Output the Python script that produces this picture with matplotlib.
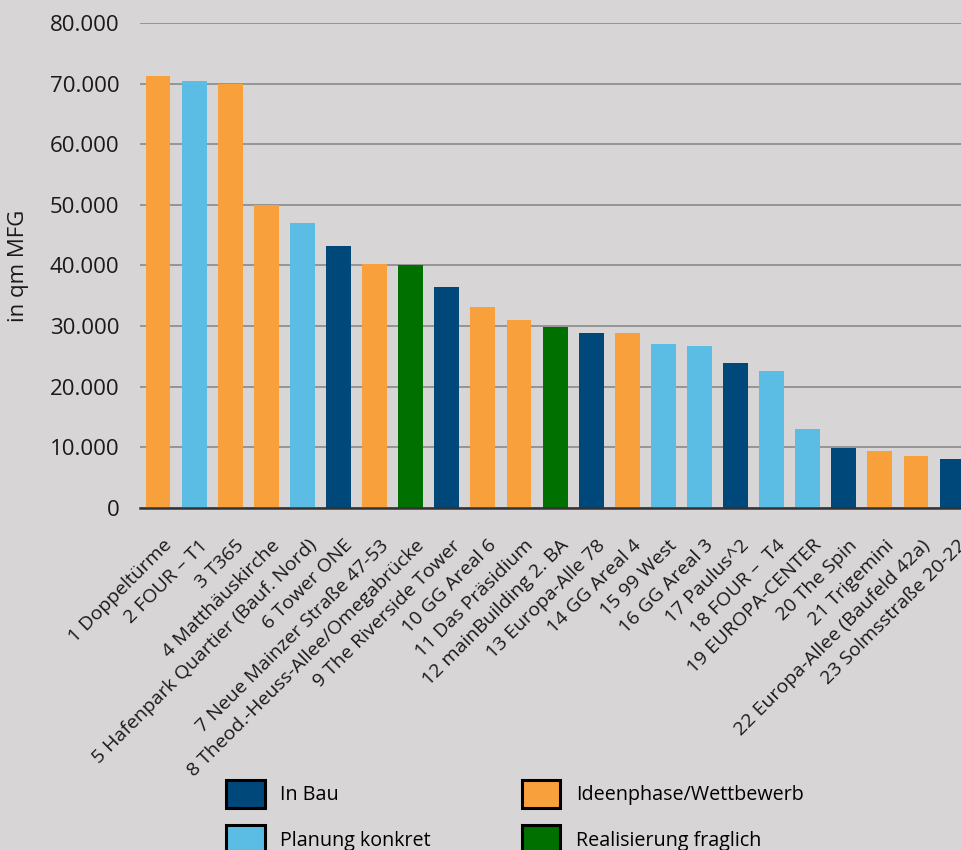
import matplotlib
matplotlib.use('Agg')
import matplotlib.pyplot as plt
from matplotlib.patches import Patch
from matplotlib.ticker import FuncFormatter
from matplotlib.transforms import ScaledTranslation

plt.rcParams['font.family'] = ['Open Sans', 'DejaVu Sans']

projects = [
    '1 Doppeltürme', '2 FOUR – T1', '3 T365', '4 Matthäuskirche',
    '5 Hafenpark Quartier (Bauf. Nord)', '6 Tower ONE',
    '7 Neue Mainzer Straße 47-53', '8 Theod.-Heuss-Allee/Omegabrücke',
    '9 The Riverside Tower', '10 GG Areal 6', '11 Das Präsidium',
    '12 mainBuilding 2. BA', '13 Europa-Alle 78', '14 GG Areal 4',
    '15 99 West', '16 GG Areal 3', '17 Paulus^2', '18 FOUR –  T4',
    '19 EUROPA-CENTER', '20 The Spin', '21 Trigemini',
    '22 Europa-Allee (Baufeld 42a)', '23 Solmsstraße 20-22',
]
area = [71300, 70400, 70000, 50000, 47000, 43200, 40250, 40100, 36450,
        33150, 31000, 29900, 28900, 28900, 27050, 26700, 23900, 22600,
        13000, 9900, 9400, 8600, 8100]
status = ['ideen', 'planung', 'ideen', 'ideen', 'planung', 'bau', 'ideen',
          'fraglich', 'bau', 'ideen', 'ideen', 'fraglich', 'bau', 'ideen',
          'planung', 'planung', 'bau', 'planung', 'planung', 'bau', 'ideen',
          'ideen', 'bau']

colors = {'bau': '#00477A', 'planung': '#5BBDE4',
          'ideen': '#F8A03C', 'fraglich': '#007000'}
legend_names = {'bau': 'In Bau', 'planung': 'Planung konkret',
                'ideen': 'Ideenphase/Wettbewerb',
                'fraglich': 'Realisierung fraglich'}
bg = '#D7D5D6'
txt = '#1a1a1a'

fig = plt.figure(figsize=(9.62, 8.5), dpi=100, facecolor=bg)
ax = fig.add_axes([0.1455, 0.4024, 0.863, 0.5706], facecolor=bg)

x = range(len(projects))
ax.bar(x, area, width=0.69, color=[colors[s] for s in status], zorder=3)

ax.set_xlim(-0.5, len(projects) - 0.5)
ax.set_ylim(0, 80000)
ax.set_yticks(range(0, 80001, 10000))
ax.yaxis.set_major_formatter(FuncFormatter(lambda v, p: f'{int(v):,}'.replace(',', '.')))
ax.grid(axis='y', color='#8A8A8A', linewidth=1.2, zorder=0)
for s in ['top', 'right', 'left']:
    ax.spines[s].set_visible(False)
ax.spines['bottom'].set_color('#333333')
ax.spines['bottom'].set_linewidth(1.8)
ax.spines['bottom'].set_zorder(4)
ax.tick_params(axis='y', length=0, pad=15, labelsize=16, labelcolor=txt)
ax.tick_params(axis='x', length=0, pad=25)
ax.set_xticks(list(x))
ax.set_xticklabels(projects, rotation=45, ha='right', va='center',
                   rotation_mode='anchor', fontsize=14, color=txt)
shift = ScaledTranslation(8 / 72, 0, fig.dpi_scale_trans)
for lab in ax.get_xticklabels():
    lab.set_transform(lab.get_transform() + shift)
ax.set_ylabel('in qm MFG', fontsize=16, color=txt, labelpad=15)

order = ['bau', 'planung', 'ideen', 'fraglich']
handles = [Patch(facecolor=colors[k], edgecolor='black', linewidth=2.2,
                 label=legend_names[k]) for k in order]
fig.legend(handles=handles, ncol=2, loc='upper left',
           bbox_to_anchor=(0.235, 0.0824), frameon=False, fontsize=14.2,
           handlelength=1.95, handleheight=1.81, handletextpad=0.8,
           columnspacing=4.6, labelspacing=0.88, borderaxespad=0,
           borderpad=0)
fig.savefig('out.png', dpi=100, facecolor=bg)
